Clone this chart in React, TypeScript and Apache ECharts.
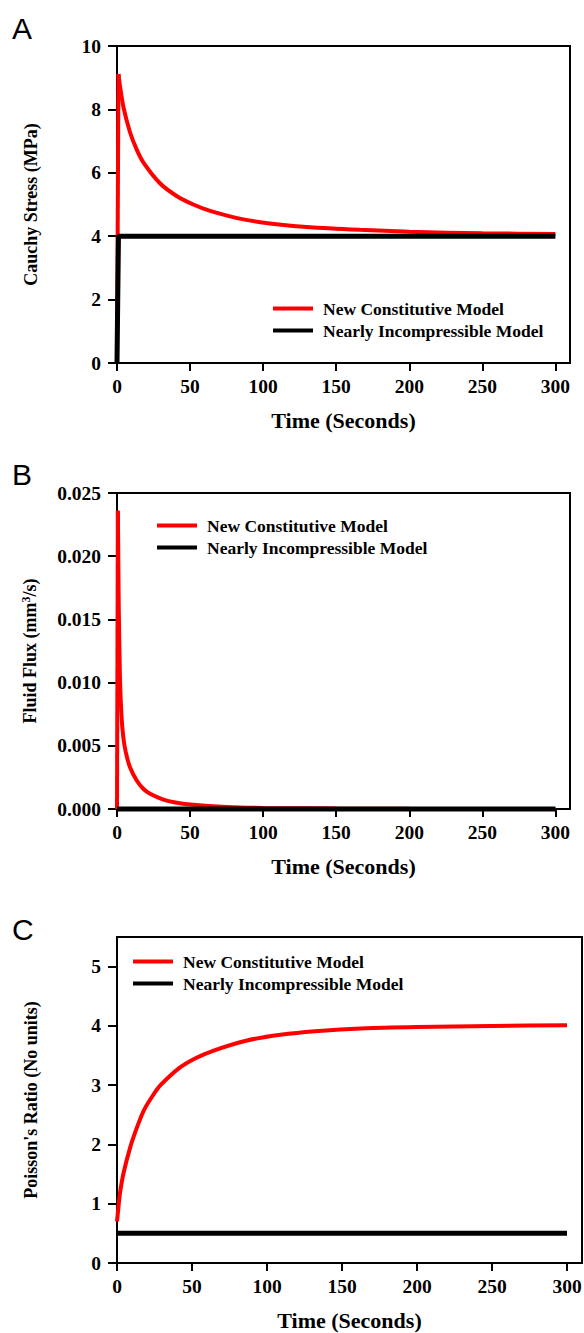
import React, { useEffect, useRef } from 'react';
import * as echarts from 'echarts';

const timeTicks = [0, 50, 100, 150, 200, 250, 300];
const stressTicks = [0, 2, 4, 6, 8, 10];
const fluxTicks = [0, 0.005, 0.01, 0.015, 0.02, 0.025];
const poissonTicks = [0, 1, 2, 3, 4, 5];

const seriesNames = ['New Constitutive Model', 'Nearly Incompressible Model'];

const stressNewT = [0, 1, 2, 4.3, 8.9, 13.5, 18, 29.4, 40.8, 52.2, 63.7, 86.5, 109, 132, 166, 200, 250, 300];
const stressNewV = [0, 9.12, 8.75, 8.09, 7.28, 6.73, 6.33, 5.67, 5.27, 5.0, 4.8, 4.53, 4.38, 4.28, 4.2, 4.14, 4.09, 4.07];
const stressIncT = [0, 1, 300];
const stressIncV = [0, 4, 4];

const fluxNewT = [0, 0.6, 1.2, 2, 3, 4.3, 6, 8.9, 13.5, 18, 22.6, 31.7, 40, 50, 75, 100, 150, 200, 300];
const fluxNewV = [0, 0.0236, 0.016, 0.0105, 0.0075, 0.0057, 0.0045, 0.0033, 0.00225, 0.0016, 0.0012, 0.00075, 0.00052, 0.00036, 0.00016, 0.00008, 0.00003, 0.00001, 0];
const fluxIncT = [0, 300];
const fluxIncV = [0, 0];

const poissonNewT = [0, 1, 2, 4.3, 8.9, 13.5, 18, 24, 29, 41, 52, 64, 86, 109, 132, 166, 200, 250, 300];
const poissonNewV = [0.7, 0.95, 1.18, 1.51, 1.96, 2.3, 2.58, 2.83, 3.0, 3.28, 3.45, 3.58, 3.75, 3.85, 3.91, 3.96, 3.98, 4.0, 4.01];
const poissonIncT = [0, 300];
const poissonIncV = [0.5, 0.5];

const zip = (t: number[], v: number[]) => t.map((x, i) => [x, v[i]]);

const SERIF = '"Liberation Serif", "Times New Roman", Times, serif';
const SANS = '"Liberation Sans", Arial, Helvetica, sans-serif';
const RED = '#ff0000';
const BLACK = '#000000';

const tickFont = { fontFamily: SERIF, fontWeight: 'bold' as const, fontSize: 19.5, color: BLACK };

function makeX(gridIndex: number) {
  return {
    type: 'value',
    gridIndex,
    min: 0,
    max: 310,
    name: 'Time (Seconds)',
    nameLocation: 'middle',
    nameGap: 46,
    nameTextStyle: { fontFamily: SERIF, fontWeight: 'bold', fontSize: 22, color: BLACK },
    axisLine: { show: true, onZero: false, lineStyle: { color: BLACK, width: 2 } },
    axisTick: { show: true, length: 8, inside: false, customValues: timeTicks, lineStyle: { color: BLACK, width: 2 } },
    axisLabel: { show: true, customValues: timeTicks, margin: 13, ...tickFont },
    splitLine: { show: false },
  };
}

function makeY(gridIndex: number, max: number, ticks: number[], name: string, fmt: (v: number) => string, rich?: any) {
  return {
    type: 'value',
    gridIndex,
    min: 0,
    max,
    name,
    nameLocation: 'middle',
    nameGap: 77,
    nameTextStyle: { fontFamily: SERIF, fontWeight: 'bold', fontSize: 18, color: BLACK, rich },
    axisLine: { show: true, onZero: false, lineStyle: { color: BLACK, width: 2 } },
    axisTick: { show: true, length: 9, inside: false, customValues: ticks, lineStyle: { color: BLACK, width: 2 } },
    axisLabel: { show: true, customValues: ticks, margin: 16, formatter: fmt, ...tickFont },
    splitLine: { show: false },
  };
}

function makeLegend(left: number, top: number) {
  return {
    orient: 'vertical',
    left,
    top,
    padding: 0,
    icon: 'rect',
    itemWidth: 40,
    itemHeight: 4,
    itemGap: 4,
    selectedMode: false,
    data: seriesNames,
    textStyle: { fontFamily: SERIF, fontWeight: 'bold', fontSize: 17.5, lineHeight: 17, color: BLACK, padding: [0, 0, 0, 5] },
  };
}

function line(name: string, data: number[][], gi: number, color: string, width: number, smooth: number | boolean = false) {
  return {
    type: 'line',
    name,
    xAxisIndex: gi,
    yAxisIndex: gi,
    data,
    color,
    smooth,
    showSymbol: false,
    symbol: 'none',
    clip: false,
    lineStyle: { color, width },
  };
}

export default function App() {
  const ref = useRef<HTMLDivElement>(null);
  useEffect(() => {
    if (!ref.current) return;
    const chart = echarts.init(ref.current, null, { renderer: 'svg' });
    const gridCommon = { show: true, borderColor: BLACK, borderWidth: 2, backgroundColor: 'transparent', containLabel: false, outerBoundsMode: 'none' };
    const stressNew = zip(stressNewT, stressNewV);
    const fluxNew = zip(fluxNewT, fluxNewV);
    chart.setOption({
      animation: false,
      backgroundColor: '#ffffff',
      grid: [
        { ...gridCommon, left: 117, top: 46, width: 453, height: 317 },
        { ...gridCommon, left: 117, top: 493, width: 453, height: 316 },
        { ...gridCommon, left: 117, top: 937, width: 465, height: 326 },
      ],
      xAxis: [makeX(0), makeX(1), makeX(2)],
      yAxis: [
        makeY(0, 10, stressTicks, 'Cauchy Stress (MPa)', (v: number) => String(v)),
        makeY(1, 0.025, fluxTicks, 'Fluid Flux (mm{sup|3}/s)', (v: number) => v.toFixed(3), {
          sup: { fontFamily: SERIF, fontWeight: 'bold', fontSize: 12, color: BLACK, verticalAlign: 'top', padding: [0, 0, 8, 0] },
        }),
        makeY(2, 5.5, poissonTicks, "Poisson's Ratio (No units)", (v: number) => String(v)),
      ],
      legend: [makeLegend(273, 299.5), makeLegend(157, 516.5), makeLegend(133, 952.5)],
      series: [
        // rise segment (straight) + decay (smoothed)
        line(seriesNames[0], stressNew.slice(0, 2), 0, RED, 4),
        line(seriesNames[0], stressNew.slice(1), 0, RED, 4, 0.2),
        line(seriesNames[1], zip(stressIncT, stressIncV), 0, BLACK, 5),
        line(seriesNames[0], fluxNew.slice(0, 2), 1, RED, 4),
        line(seriesNames[0], fluxNew.slice(1), 1, RED, 4, 0.2),
        line(seriesNames[1], zip(fluxIncT, fluxIncV), 1, BLACK, 5),
        line(seriesNames[0], zip(poissonNewT, poissonNewV), 2, RED, 4, 0.2),
        line(seriesNames[1], zip(poissonIncT, poissonIncV), 2, BLACK, 5),
      ],
      graphic: [
        { type: 'text', left: 12, top: 13, style: { text: 'A', fontFamily: SANS, fontSize: 30, fill: BLACK } },
        { type: 'text', left: 12, top: 459, style: { text: 'B', fontFamily: SANS, fontSize: 30, fill: BLACK } },
        { type: 'text', left: 12, top: 914, style: { text: 'C', fontFamily: SANS, fontSize: 30, fill: BLACK } },
      ],
    });
    return () => chart.dispose();
  }, []);
  return <div ref={ref} style={{ position: 'absolute', left: 0, top: 0, width: 584, height: 1333 }} />;
}
